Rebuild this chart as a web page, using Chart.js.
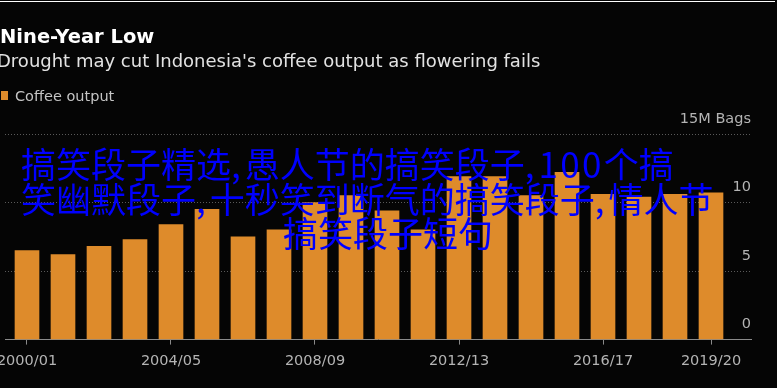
<!DOCTYPE html>
<html>
<head>
<meta charset="utf-8">
<script src="https://cdn.jsdelivr.net/npm/chart.js@4.4.1/dist/chart.umd.min.js"></script>
<style>
html,body{margin:0;padding:0;background:#050505;width:777px;height:388px;overflow:hidden}
#wrap{position:relative;width:777px;height:388px}
#c{position:absolute;left:0;top:0}
#topline{position:absolute;left:0;top:1px;width:775px;height:1px;background:#fff}
.t{position:absolute;white-space:nowrap;font-family:"DejaVu Sans",sans-serif}
#title{left:0;top:26.5px;font-size:19.5px;line-height:19.5px;font-weight:bold;color:#fff}
#sub{left:-3px;top:52px;font-size:18px;line-height:18px;color:#e2e2e2}
#leg{left:15px;top:89px;font-size:14.5px;line-height:14.5px;color:#c4c4c4}
#legbox{position:absolute;left:1px;top:91px;width:7px;height:9px;background:#de8b2b}
.cn{position:absolute;white-space:nowrap;font-family:"Noto Sans CJK SC",sans-serif;font-size:35px;line-height:35px;color:#0000ff}
.cm{letter-spacing:4px}
.dg{letter-spacing:2.3px}
</style>
</head>
<body>
<div id="wrap">
  <canvas id="c" width="777" height="388"></canvas>
  <div id="topline"></div>
  <div class="t" id="title">Nine-Year Low</div>
  <div class="t" id="sub">Drought may cut Indonesia's coffee output as flowering fails</div>
  <div id="legbox"></div>
  <div class="t" id="leg">Coffee output</div>
  <div class="cn" style="left:21px;top:145px">搞笑段子精选<span class="cm">,</span>愚人节的搞笑段子<span class="cm">,</span><span class="dg">100</span>个搞</div>
  <div class="cn" style="left:21px;top:180px">笑幽默段子<span class="cm">,</span>十秒笑到断气的搞笑段子<span class="cm">,</span>情人节</div>
  <div class="cn" style="left:283px;top:214px">搞笑段子短句</div>
</div>
<script>
const seasons = ['2000/01','2001/02','2002/03','2003/04','2004/05','2005/06','2006/07','2007/08','2008/09','2009/10',
                 '2010/11','2011/12','2012/13','2013/14','2014/15','2015/16','2016/17','2017/18','2018/19','2019/20'];
const coffeeOutput = [6.5, 6.2, 6.8, 7.3, 8.4, 9.5, 7.5, 8.0, 10.0, 10.5,
                      9.4, 8.0, 11.9, 11.9, 10.5, 12.2, 10.6, 10.4, 10.6, 10.7];
const xTickLabels = ['2000/01','2004/05','2008/09','2012/13','2016/17','2019/20'];
const yTickValues = [0, 5, 10, 15];
const yUnit = 'M Bags';

const tickFont = {family: 'DejaVu Sans', size: 14.5};

new Chart(document.getElementById('c'), {
  type: 'bar',
  data: {
    datasets: [{
      label: 'Coffee output',
      data: coffeeOutput.map((v, i) => ({x: i, y: v})),
      backgroundColor: '#de8b2b',
      borderWidth: 0,
      barThickness: 24
    }]
  },
  options: {
    responsive: false,
    animation: false,
    devicePixelRatio: 1,
    layout: {padding: {left: 5, right: 26, top: 134, bottom: 10}},
    plugins: {legend: {display: false}, tooltip: {enabled: false}},
    scales: {
      x: {
        type: 'linear',
        position: 'bottom',
        offset: false,
        min: -0.6111,
        max: 20.1111,
        afterBuildTicks: s => { s.ticks = xTickLabels.map(l => ({value: seasons.indexOf(l)})); },
        afterFit: s => { s.paddingLeft = 0; s.paddingRight = 0; },
        ticks: {
          autoSkip: false, maxRotation: 0, padding: 8,
          color: '#b4b4b4', font: tickFont,
          callback: v => seasons[v]
        },
        grid: {offset: false, drawOnChartArea: false, drawTicks: true, tickLength: 5, color: '#8a8a8a', tickColor: '#8a8a8a'},
        border: {display: true, color: '#8a8a8a', width: 1}
      },
      y: {
        position: 'right',
        min: 0,
        max: 15,
        afterBuildTicks: s => { s.ticks = yTickValues.map(v => ({value: v})); },
        afterFit: s => { s.paddingTop = 0; s.paddingBottom = 0; },
        ticks: {
          mirror: true, padding: 0, labelOffset: -15,
          color: '#b4b4b4', font: tickFont,
          callback: v => (v === yTickValues[yTickValues.length - 1] ? v + yUnit : String(v))
        },
        grid: {
          drawTicks: false,
          color: ctx => (ctx.tick && ctx.tick.value === 0 ? 'rgba(0,0,0,0)' : '#5a5a5a'),
          lineWidth: 1
        },
        border: {display: false, dash: [1, 2]}
      }
    }
  }
});
</script>
</body>
</html>
